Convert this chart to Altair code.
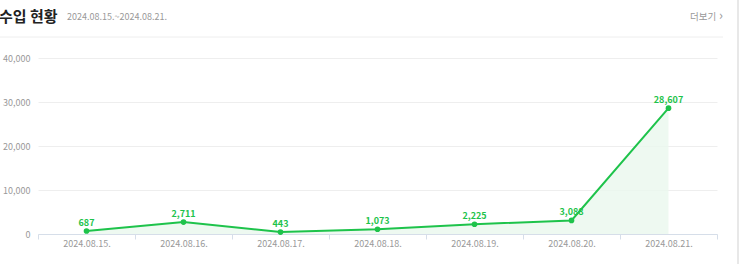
import altair as alt
import pandas as pd

dates = ["2024.08.15.", "2024.08.16.", "2024.08.17.", "2024.08.18.",
         "2024.08.19.", "2024.08.20.", "2024.08.21."]
values = [687, 2711, 443, 1073, 2225, 3088, 28607]
y_ticks = [0, 10000, 20000, 30000, 40000]

title_text = "수입 현황"
range_text = "2024.08.15.~2024.08.21."
more_text = "더보기"

FONT = "Noto Sans CJK KR"
GREEN = "#1ec34b"

df = pd.DataFrame({"date": dates, "value": values})

x_enc = alt.X("date:N", sort=dates, title=None,
              scale=alt.Scale(type="band", paddingInner=0, paddingOuter=0),
              axis=alt.Axis(labelAngle=0, labelColor="#999999", labelFontSize=9,
                            labelFont=FONT, labelPadding=0, tickBand="extent",
                            tickColor="#d6dee9", tickSize=5, domainColor="#d6dee9",
                            grid=False))
y_enc = alt.Y("value:Q", title=None,
              scale=alt.Scale(domain=[0, 40000], nice=False),
              axis=alt.Axis(values=y_ticks, labelExpr="format(datum.value, ',')",
                            labelColor="#999999",
                            labelFontSize=9, labelFont=FONT, labelPadding=8,
                            ticks=False, domain=False, gridColor="#eeeeee"))

base = alt.Chart(df)

area = base.mark_area(color="#eaf8ed", opacity=0.8).encode(x=x_enc, y=y_enc)
line = base.mark_line(color=GREEN, strokeWidth=2).encode(x=x_enc, y=y_enc)
pts = base.mark_point(filled=True, color=GREEN, size=32, opacity=1).encode(x=x_enc, y=y_enc)
labels = base.mark_text(color=GREEN, fontSize=9, fontWeight="bold", font=FONT, dy=-3,
                        baseline="bottom").encode(
    x=x_enc, y=y_enc, text=alt.Text("value:Q", format=","))

hdr = pd.DataFrame({"t": [0]})
h = alt.Chart(hdr)
title = h.mark_text(text=title_text, font=FONT, fontSize=15, fontWeight="bold",
                    color="#222222", align="left", baseline="middle").encode(
    x=alt.value(-39), y=alt.value(-41))
rng = h.mark_text(text=range_text, font=FONT, fontSize=9, color="#999999",
                  align="left", baseline="middle").encode(
    x=alt.value(29), y=alt.value(-41))
more = h.mark_text(text=more_text, font=FONT, fontSize=9.5, color="#999999",
                   align="left", baseline="middle").encode(
    x=alt.value(652), y=alt.value(-41))
chev = h.mark_text(text="›", font=FONT, fontSize=13, color="#999999",
                   align="left", baseline="middle").encode(
    x=alt.value(681), y=alt.value(-42))
hline = h.mark_rule(color="#eeeeee", strokeWidth=1).encode(
    x=alt.value(-38), x2=alt.value(685), y=alt.value(-21))
vline = h.mark_rule(color="#e8e8e8", strokeWidth=2).encode(
    x=alt.value(700), y=alt.value(-58), y2=alt.value(206))

chart = alt.layer(area, line, pts, labels, title, rng, more, chev, hline, vline).properties(
    width=679, height=176,
    autosize=alt.AutoSizeParams(type="none"),
    padding={"left": 38, "top": 58, "right": 26, "bottom": 30},
).configure(background="white").configure_view(stroke=None)

chart.save("out.html", embed_options={"renderer": "svg", "actions": False})
